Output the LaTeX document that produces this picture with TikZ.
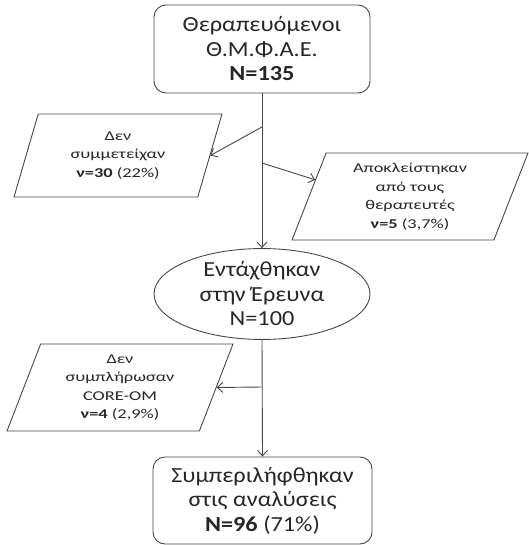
\documentclass[tikz,border=0pt]{standalone}
\usepackage{fontspec}
\setmainfont{Carlito}
\newfontfamily\bigfam{Carlito}[FakeStretch=1.13]
\newfontfamily\smallfam{Carlito}[FakeStretch=1.36]
\usetikzlibrary{shapes.geometric,arrows.meta,calc}
\begin{document}
\begin{tikzpicture}[x=1pt,y=-1pt,
  line/.style={draw=black!72, line width=0.9pt},
  arr/.style={line, -{Straight Barb[length=5.5pt,width=10pt]}},
  bigtext/.style={font=\bigfam\fontsize{21.5}{24.5}\selectfont, align=center, text=black!85},
  smalltext/.style={font=\smallfam\fontsize{13.5}{18.5}\selectfont, align=center, text=black!85},
  roundbox/.style={rectangle, rounded corners=12pt, line, inner sep=0pt, bigtext},
  ovalbox/.style={ellipse, line, inner sep=0pt, bigtext},
  slantbox/.style={trapezium, trapezium left angle=63, trapezium right angle=117,
    trapezium stretches body=true, line, inner sep=0pt, smalltext}
]
\useasboundingbox (0,0) rectangle (528,545);

\node[roundbox, minimum width=216pt, minimum height=88pt] (top) at (262,49)
  {Θεραπευόμενοι\\Θ.Μ.Φ.Α.Ε.\\\textbf{N=135}};
\node[ovalbox, minimum width=216pt, minimum height=88pt] (mid) at (262,294)
  {Εντάχθηκαν\\στην Έρευνα\\N=100};
\node[roundbox, minimum width=219pt, minimum height=87pt] (bot) at (262.5,500.5)
  {Συμπεριλήφθηκαν\\στις αναλύσεις\\\textbf{N=96} (71\%)};

\node[slantbox, minimum width=208pt, minimum height=83pt] (p1) at (118,155.5)
  {Δεν\\συμμετείχαν\\\textbf{ν=30} (22\%)};
\node[slantbox, minimum width=236pt, minimum height=87pt] (p2) at (410,196.5)
  {Αποκλείστηκαν\\από τους\\θεραπευτές\\\textbf{ν=5} (3,7\%)};
\node[slantbox, minimum width=226pt, minimum height=87pt] (p3) at (120,387.5)
  {Δεν\\συμπλήρωσαν\\CORE-OM\\\textbf{ν=4} (2,9\%)};

\coordinate (j1) at (262,127);
\coordinate (j2) at (262,163);
\coordinate (j3) at (262,387);
\coordinate (p2in) at ($(p2.top left corner)!0.31!(p2.bottom left corner)$);

\draw[arr] (top.south) -- (mid.north);
\draw[arr] (mid.south) -- (bot.north);
\draw[arr] (j1) -- (p1.east);
\draw[arr] (j2) -- (p2in);
\draw[arr] (j3) -- (p3.east);
\end{tikzpicture}
\end{document}
